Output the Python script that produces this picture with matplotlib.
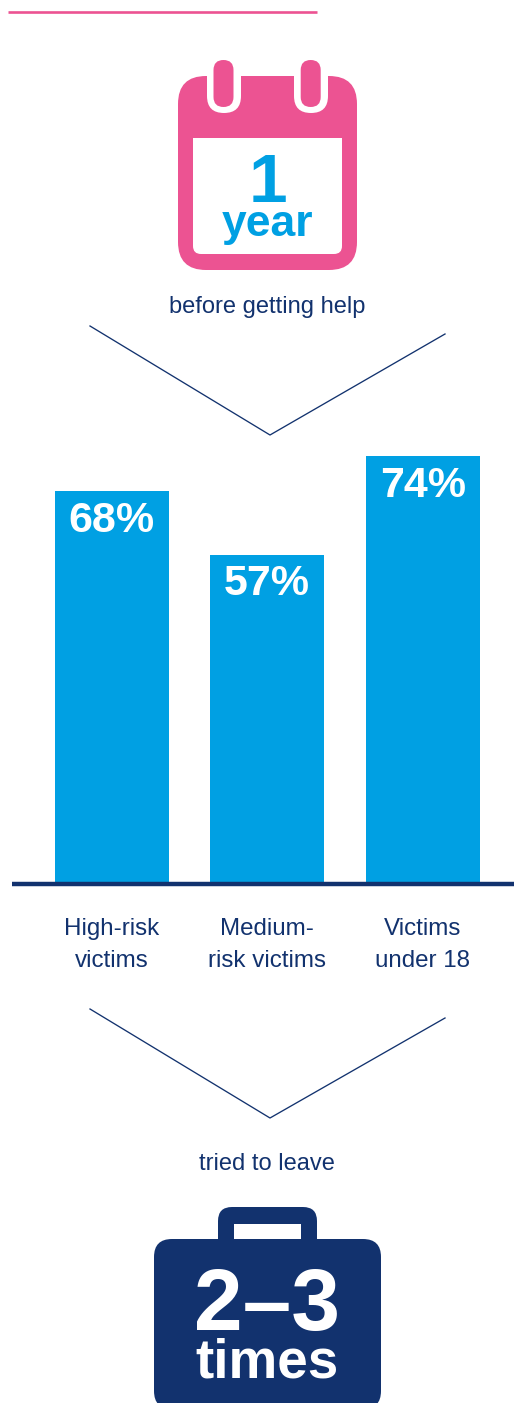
#!/usr/bin/env python3
"""Infographic: time before getting help, share per victim group, attempts to leave."""

import matplotlib

matplotlib.use("Agg")
import matplotlib.pyplot as plt
from matplotlib.patches import FancyBboxPatch, Rectangle

categories = ["High-risk\nvictims", "Medium-\nrisk victims", "Victims\nunder 18"]
percent = [68, 57, 74]

PINK = "#ec5392"
BLUE = "#00a0e3"
NAVY = "#12326e"
W, H = 514, 1403

plt.rcParams["font.family"] = ["Liberation Sans", "DejaVu Sans"]

fig = plt.figure(figsize=(W / 100, H / 100), dpi=100, facecolor="white")

# overlay in pixel coordinates for the icons and connector lines
px = fig.add_axes([0, 0, 1, 1])
px.set_xlim(0, W)
px.set_ylim(H, 0)
px.axis("off")


def rounded(x0, y0, x1, y1, r, color, zorder=2):
    px.add_patch(
        FancyBboxPatch(
            (x0 + r, y0 + r),
            x1 - x0 - 2 * r,
            y1 - y0 - 2 * r,
            boxstyle=f"round,pad={r},rounding_size={r}",
            facecolor=color,
            edgecolor="none",
            zorder=zorder,
        )
    )


def chevron(y_left, y_tip, y_right):
    px.plot([90, 270, 445], [y_left, y_tip, y_right], color=NAVY, linewidth=0.95, zorder=2)


px.plot([8, 317], [11.5, 11.5], color=PINK, linewidth=1.9, solid_capstyle="butt")

# calendar
rounded(178, 76, 357, 270, 28, PINK)
for x0, x1 in [(207, 241), (294, 328)]:
    px.add_patch(Rectangle((x0, 70), x1 - x0, 20, facecolor="white", edgecolor="none", zorder=3))
    rounded(x0, 60, x1, 113, 17, "white", zorder=3)
for x0, x1 in [(213.5, 233.5), (300.7, 320.7)]:
    rounded(x0, 60, x1, 107, 10, PINK, zorder=4)
rounded(193, 138, 342, 254, 8, "white", zorder=3)
px.add_patch(Rectangle((193, 138), 149, 30, facecolor="white", edgecolor="none", zorder=3))
px.text(268, 202, "1", color=BLUE, fontsize=50, fontweight="bold", ha="center", va="baseline", zorder=5)
px.text(267, 236, "year", color=BLUE, fontsize=32, fontweight="bold", ha="center", va="baseline", zorder=5)

px.text(267, 313, "before getting help", color=NAVY, fontsize=17, ha="center", va="baseline")
chevron(326, 435, 334)
chevron(1009, 1118, 1018)
px.text(267, 1170, "tried to leave", color=NAVY, fontsize=17, ha="center", va="baseline")

# briefcase, runs off the bottom edge
rounded(218, 1207, 317, 1260, 14, NAVY)
px.add_patch(Rectangle((234, 1224), 67, 16, facecolor="white", edgecolor="none", zorder=3))
rounded(154, 1239, 381, 1409, 18, NAVY, zorder=3)
px.text(267, 1330, "2–3", color="white", fontsize=63, fontweight="bold", ha="center", va="baseline", zorder=5)
px.text(267, 1378, "times", color="white", fontsize=39.5, fontweight="bold", ha="center", va="baseline", zorder=5)

# bars: 5.78 px per percentage point, 155.5 px between bar centres
base_y = 884
ax = fig.add_axes([12 / W, (H - base_y) / H, (W - 12) / W, 440 / H])
ax.patch.set_alpha(0)
ax.set_xlim((12 - 111.7) / 155.5, (W - 111.7) / 155.5)
ax.set_ylim(0, 440 / 5.78)
positions = list(range(len(percent)))
ax.bar(positions, percent, width=114 / 155.5, color=BLUE, edgecolor="none")
for pos, value in zip(positions, percent):
    ax.text(
        pos,
        value - 1.7,
        f"{value}%",
        color="white",
        fontsize=31,
        fontweight="bold",
        ha="center",
        va="top",
    )
for side in ["top", "left", "right"]:
    ax.spines[side].set_visible(False)
ax.spines["bottom"].set_color(NAVY)
ax.spines["bottom"].set_linewidth(3.2)
ax.spines["bottom"].set_capstyle("butt")
ax.set_yticks([])
ax.set_xticks(positions, categories, fontsize=17.4, color=NAVY, linespacing=1.6)
ax.tick_params(axis="x", length=0, pad=24.5)

fig.savefig("out.png", dpi=100)
plt.close(fig)
